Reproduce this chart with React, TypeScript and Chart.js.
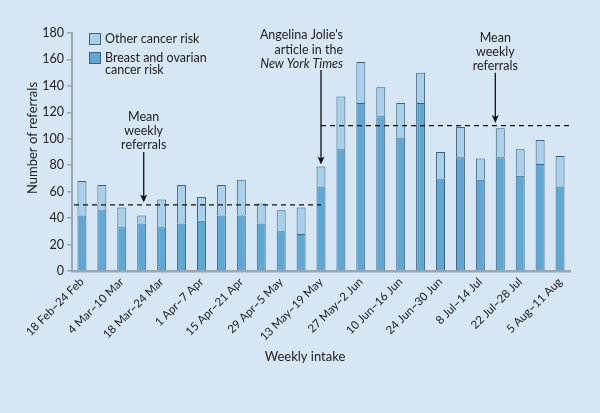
import { useEffect, useRef } from "react"
import { Chart, registerables } from "chart.js"

Chart.register(...registerables)

// weekly intake periods (2013)
const weeks = [
  "18 Feb–24 Feb", "25 Feb–3 Mar", "4 Mar–10 Mar", "11 Mar–17 Mar", "18 Mar–24 Mar",
  "25 Mar–31 Mar", "1 Apr–7 Apr", "8 Apr–14 Apr", "15 Apr–21 Apr", "22 Apr–28 Apr",
  "29 Apr–5 May", "6 May–12 May", "13 May–19 May", "20 May–26 May", "27 May–2 Jun",
  "3 Jun–9 Jun", "10 Jun–16 Jun", "17 Jun–23 Jun", "24 Jun–30 Jun", "1 Jul–7 Jul",
  "8 Jul–14 Jul", "15 Jul–21 Jul", "22 Jul–28 Jul", "29 Jul–4 Aug", "5 Aug–11 Aug",
]
const breastOvarian = [42, 46, 33, 36, 33, 36, 38, 42, 42, 36, 30, 28, 64, 92, 127, 117, 101, 127, 70, 86, 69, 86, 72, 81, 64]
const otherCancer = [26, 19, 15, 6, 21, 29, 18, 23, 27, 15, 16, 20, 15, 40, 31, 22, 26, 23, 20, 23, 16, 22, 20, 18, 23]
const yTicks = [0, 20, 40, 60, 80, 100, 120, 140, 160, 180]

const meanBefore = 50
const meanAfter = 110
const jolieWeek = 12

const BG = "#d6e6f4"
const LIGHT = "#a9d0ea"
const DARK = "#5fa8d5"
const EDGE = "#41627a"
const TEXT = "#222"
const FONT = "Lato"

function arrow(ctx: CanvasRenderingContext2D, x: number, y1: number, tip: number) {
  ctx.beginPath()
  ctx.moveTo(x, y1)
  ctx.lineTo(x, tip - 5)
  ctx.stroke()
  ctx.beginPath()
  ctx.moveTo(x, tip)
  ctx.lineTo(x - 3.5, tip - 8)
  ctx.lineTo(x, tip - 6)
  ctx.lineTo(x + 3.5, tip - 8)
  ctx.closePath()
  ctx.fill()
}

function lines(ctx: CanvasRenderingContext2D, texts: string[], x: number, y: number, gap: number) {
  texts.forEach((t, i) => ctx.fillText(t, x, y + i * gap))
}

const annotations = {
  id: "annotations",
  afterDatasetsDraw(chart: Chart) {
    const { ctx, chartArea } = chart
    const x = chart.scales.x
    const y = chart.scales.y
    ctx.save()
    ctx.strokeStyle = "#111"
    ctx.fillStyle = "#111"
    ctx.lineWidth = 1.3

    // mean weekly referrals, before and after the article
    const xJ = x.getPixelForValue(jolieWeek)
    ctx.setLineDash([5, 4])
    ctx.beginPath()
    ctx.moveTo(chartArea.left + 2, y.getPixelForValue(meanBefore))
    ctx.lineTo(xJ, y.getPixelForValue(meanBefore))
    ctx.moveTo(xJ, y.getPixelForValue(meanAfter))
    ctx.lineTo(chartArea.right, y.getPixelForValue(meanAfter))
    ctx.stroke()
    ctx.setLineDash([])

    const a1x = x.getPixelForValue(3.1)
    const a1y = y.getPixelForValue(90)
    arrow(ctx, a1x, a1y, y.getPixelForValue(meanBefore) - 2.5)
    const a2x = x.getPixelForValue(20.75)
    const a2y = y.getPixelForValue(150)
    arrow(ctx, a2x, a2y, y.getPixelForValue(meanAfter) - 2.5)
    const topJ = breastOvarian[jolieWeek] + otherCancer[jolieWeek]
    const ajy = y.getPixelForValue(152)
    arrow(ctx, xJ, ajy, y.getPixelForValue(topJ) - 2)

    ctx.fillStyle = TEXT
    ctx.textBaseline = "middle"
    ctx.font = `12.5px ${FONT}`
    ctx.textAlign = "center"
    lines(ctx, ["Mean", "weekly", "referrals"], a1x, a1y - 35, 14)
    lines(ctx, ["Mean", "weekly", "referrals"], a2x, a2y - 35, 14)
    ctx.textAlign = "right"
    lines(ctx, ["Angelina Jolie's", "article in the"], xJ + 22, ajy - 35, 14.5)
    ctx.font = `italic 12.5px ${FONT}`
    ctx.fillText("New York Times", xJ + 22, ajy - 6)

    // legend
    const lx = chartArea.left + 17
    const ds = chart.data.datasets
    ctx.font = `12.5px ${FONT}`
    ctx.textAlign = "left"
    ctx.strokeStyle = EDGE
    ctx.lineWidth = 1
    ;[
      { d: ds[1], top: chartArea.top, text: ["Other cancer risk"] },
      { d: ds[0], top: chartArea.top + 19, text: ["Breast and ovarian", "cancer risk"] },
    ].forEach(({ d, top, text }) => {
      ctx.fillStyle = d.backgroundColor as string
      ctx.fillRect(lx + 0.5, top + 0.5, 11, 11)
      ctx.strokeRect(lx + 0.5, top + 0.5, 11, 11)
      ctx.fillStyle = TEXT
      lines(ctx, text, lx + 16, top + 5.5, 12)
    })

    // axis titles
    ctx.font = `13px ${FONT}`
    ctx.textAlign = "center"
    ctx.fillText("Weekly intake", 305, 357)
    ctx.translate(33, 138)
    ctx.rotate(-Math.PI / 2)
    ctx.fillText("Number of referrals", 0, 0)
    ctx.restore()
  },
}

export default function App() {
  const canvasRef = useRef<HTMLCanvasElement>(null)

  useEffect(() => {
    if (!canvasRef.current) return
    const chart = new Chart(canvasRef.current, {
      type: "bar",
      data: {
        labels: weeks,
        datasets: [
          {
            label: "Breast and ovarian cancer risk",
            data: breastOvarian,
            backgroundColor: DARK,
            borderColor: EDGE,
            borderWidth: 1,
            categoryPercentage: 0.5,
            barPercentage: 0.9,
          },
          {
            label: "Other cancer risk",
            data: otherCancer,
            backgroundColor: LIGHT,
            borderColor: EDGE,
            borderWidth: 1,
            categoryPercentage: 0.5,
            barPercentage: 0.9,
          },
        ],
      },
      options: {
        animation: false,
        responsive: true,
        maintainAspectRatio: false,
        layout: { padding: { top: 33, right: 30, bottom: 0, left: 0 } },
        plugins: {
          legend: { display: false },
          tooltip: { enabled: false },
        },
        scales: {
          x: {
            stacked: true,
            grid: { display: false },
            border: { display: true, color: "#9aa6b0", width: 2.5 },
            ticks: {
              autoSkip: false,
              maxRotation: 45,
              minRotation: 45,
              padding: -4,
              color: TEXT,
              font: { family: FONT, size: 11.5 },
              callback: (_v, i) => (i % 2 === 0 ? weeks[i] : ""),
            },
            afterFit: (s) => {
              s.height = 142
            },
          },
          y: {
            stacked: true,
            min: 0,
            max: 180,
            afterBuildTicks: (s) => {
              s.ticks = yTicks.map((value) => ({ value }))
            },
            grid: { drawOnChartArea: false, tickLength: 5, color: "#9aa6b0", lineWidth: 1.5 },
            border: { display: true, color: "#9aa6b0", width: 2 },
            ticks: {
              padding: 3,
              color: TEXT,
              font: { family: FONT, size: 12.5 },
            },
            afterFit: (s) => {
              s.width = 72
            },
          },
        },
      },
      plugins: [annotations],
    })
    return () => chart.destroy()
  }, [])

  return (
    <div style={{ position: "fixed", left: 0, top: 0, width: 600, height: 413, background: BG }}>
      <canvas ref={canvasRef}></canvas>
    </div>
  )
}
